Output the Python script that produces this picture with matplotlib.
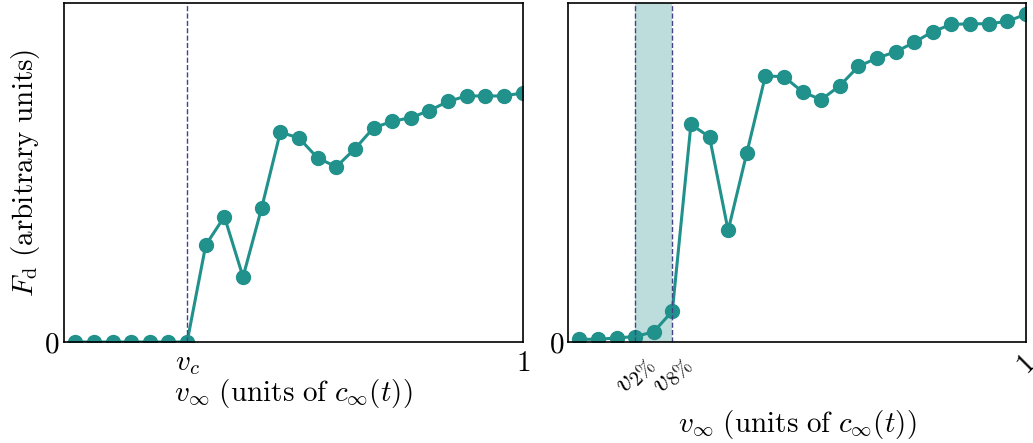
import matplotlib
matplotlib.use("Agg")
import matplotlib.pyplot as plt

plt.rcParams['mathtext.fontset'] = 'cm'
plt.rcParams['font.family'] = 'serif'
plt.rcParams['font.serif'] = ['DejaVu Serif']

# velocities, 25 runs from 0.04 to 1 (units of c_inf)
v = [0.04, 0.08, 0.12, 0.16, 0.20, 0.24, 0.28, 0.32, 0.36, 0.40,
     0.44, 0.48, 0.52, 0.56, 0.60, 0.64, 0.68, 0.72, 0.76, 0.80,
     0.84, 0.88, 0.92, 0.96, 1.00]

# drag force, left panel (arbitrary units)
F_left = [0, 0, 0, 0, 0, 0, 0, 0.286, 0.370, 0.192,
          0.396, 0.619, 0.602, 0.543, 0.517, 0.570, 0.632, 0.651, 0.662, 0.683,
          0.710, 0.726, 0.726, 0.726, 0.735]

# drag force, right panel (arbitrary units)
F_right = [0.008, 0.008, 0.012, 0.016, 0.030, 0.091, 0.642, 0.605, 0.329, 0.557,
           0.785, 0.783, 0.738, 0.715, 0.756, 0.813, 0.838, 0.856, 0.884, 0.916,
           0.937, 0.939, 0.939, 0.946, 0.967]

v_c = 0.28
v_2 = 0.16
v_8 = 0.24

teal = '#21918c'
navy = '#414487'
fs = 21

fig = plt.figure(figsize=(10.33, 4.43), dpi=100)
ax1 = fig.add_axes([0.062, 0.228, 0.444, 0.765])
ax2 = fig.add_axes([0.550, 0.228, 0.443, 0.765])

xlabel = r'$v_\infty\ \mathrm{(units\ of\ }c_\infty(t)\mathrm{)}$'

# left panel
ax1.plot(v, F_left, '-o', color=teal, lw=2.2, ms=10)
ax1.axvline(v_c, color=navy, ls='--', lw=1)
ax1.set_xlim(0.016, 1)
ax1.set_ylim(0, 1)
ax1.set_xticks([v_c, 1])
ax1.set_xticklabels([r'$v_c$', r'$1$'], fontsize=fs)
ax1.set_yticks([0])
ax1.set_yticklabels([r'$0$'], fontsize=fs)
ax1.set_xlabel(xlabel, fontsize=fs, labelpad=0)
ax1.set_ylabel(r'$F_\mathrm{d}\ \mathrm{(arbitrary\ units)}$', fontsize=fs, labelpad=2)

# right panel
ax2.axvspan(v_2, v_8, color=teal, alpha=0.3, lw=0)
ax2.plot(v, F_right, '-o', color=teal, lw=2.2, ms=10)
ax2.axvline(v_2, color=navy, ls='--', lw=1)
ax2.axvline(v_8, color=navy, ls='--', lw=1)
ax2.set_xlim(0.016, 1)
ax2.set_ylim(0, 1)
ax2.set_xticks([v_2, v_8, 1])
ax2.set_xticklabels([r'$v_{2\%}$', r'$v_{8\%}$', r'$1$'], fontsize=fs, rotation=45)
ax2.set_yticks([0])
ax2.set_yticklabels([r'$0$'], fontsize=fs)
ax2.set_xlabel(xlabel, fontsize=fs, labelpad=6)

ax1.tick_params(length=0, pad=5)
ax2.tick_params(axis='x', length=0, pad=6)
ax2.tick_params(axis='y', length=0, pad=3)
ax1.tick_params(axis='y', pad=3)
for ax in (ax1, ax2):
    for s in ax.spines.values():
        s.set_linewidth(1.2)

plt.savefig('out.png', dpi=100)
